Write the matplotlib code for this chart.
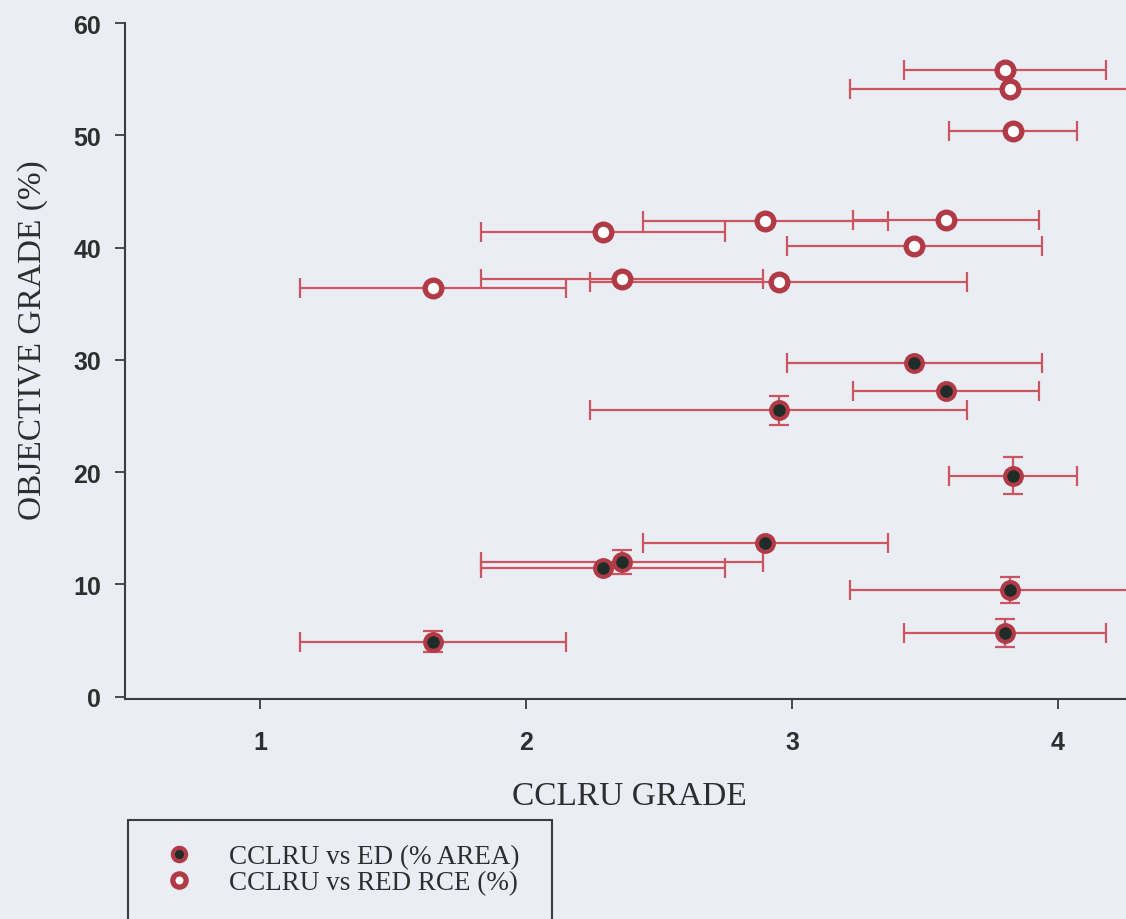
import matplotlib.pyplot as plt
from matplotlib.patches import Rectangle

# CCLRU grade (x) with its spread, shared by both series
cclru = [1.65, 2.29, 2.36, 2.90, 2.95, 3.46, 3.58, 3.83, 3.82, 3.80]
cclru_err = [0.50, 0.46, 0.53, 0.46, 0.71, 0.48, 0.35, 0.24, 0.60, 0.38]

# objective grades
ed_area = [4.9, 11.5, 12.0, 13.7, 25.5, 29.7, 27.2, 19.7, 9.5, 5.7]
ed_area_err = [0.95, 0.0, 1.07, 0.0, 1.27, 0.0, 0.0, 1.63, 1.14, 1.27]
red_rce = [36.4, 41.4, 37.2, 42.4, 36.9, 40.1, 42.5, 50.4, 54.1, 55.8]

bg = '#ebedf5'
bar_col = '#cc5560'
edge_col = '#b03a45'
ink = '#2e2e2e'

fig = plt.figure(figsize=(11.26, 9.2), dpi=100, facecolor=bg)
ax = fig.add_axes([0.111, 0.2391, 0.889, 0.7348], facecolor=bg)

# error bars first, markers on top
ax.errorbar(cclru, ed_area, xerr=cclru_err, yerr=ed_area_err, fmt='none',
            ecolor=bar_col, elinewidth=1.6, capsize=7, capthick=1.6, zorder=2)
ax.errorbar(cclru, red_rce, xerr=cclru_err, fmt='none',
            ecolor=bar_col, elinewidth=1.6, capsize=7, capthick=1.6, zorder=2)

ax.plot(cclru, ed_area, 'o', ms=12, mfc='#1f2c28', mec=edge_col, mew=3,
        label='CCLRU vs ED (% AREA)', zorder=3, clip_on=False)
ax.plot(cclru, red_rce, 'o', ms=12, mfc='white', mec=edge_col, mew=3.8,
        label='CCLRU vs RED RCE (%)', zorder=3, clip_on=False)

ax.set_xlim(0.4925, 4.256)
ax.set_ylim(-0.2, 60)
ax.set_xticks([1, 2, 3, 4])
ax.set_yticks([0, 10, 20, 30, 40, 50, 60])

for s in ['top', 'right']:
    ax.spines[s].set_visible(False)
for s in ['left', 'bottom']:
    ax.spines[s].set_color('#3c3c3c')
    ax.spines[s].set_linewidth(1.5)

ax.tick_params(axis='both', direction='out', length=7, width=1.3, color='#3c3c3c',
               labelsize=18, labelcolor=ink)
ax.tick_params(axis='y', pad=10)
ax.tick_params(axis='x', pad=15)
for lab in ax.get_xticklabels() + ax.get_yticklabels():
    lab.set_family('Liberation Sans')
    lab.set_weight('bold')

fig.text(0.5586, 0.1337, 'CCLRU GRADE', family='Liberation Serif', fontsize=24,
         color=ink, ha='center', va='center')
fig.text(0.029, 0.6304, 'OBJECTIVE GRADE (%)', family='Liberation Serif', fontsize=24,
         color=ink, ha='center', va='center', rotation=90)

# legend box runs off the bottom of the page
fig.patches.append(Rectangle((0.1134, -0.05), 0.3766, 0.158, transform=fig.transFigure,
                             fill=False, edgecolor='#3c3c3c', linewidth=1.5))
leg = fig.legend(loc='upper left', bbox_to_anchor=(0.148, 0.081), frameon=False,
                 prop={'family': 'Liberation Serif', 'size': 19.5}, markerscale=0.8,
                 handlelength=0.9, handletextpad=1.4, labelspacing=0.03,
                 borderpad=0, borderaxespad=0)
for t in leg.get_texts():
    t.set_color(ink)

fig.savefig('out.png', dpi=100, facecolor=bg)
